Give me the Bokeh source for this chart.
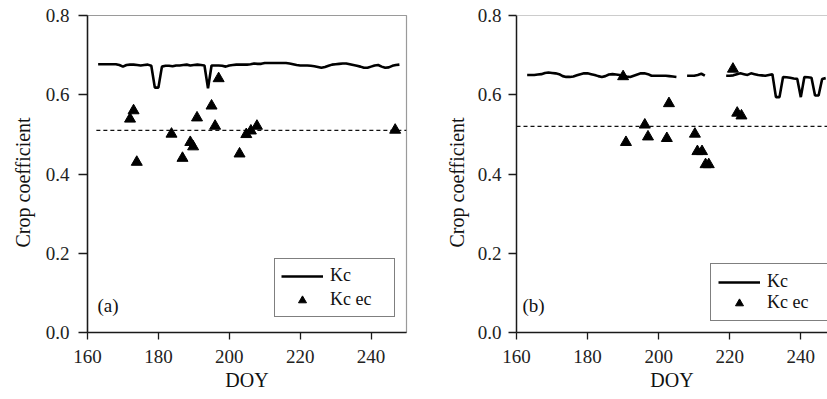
import math
from bokeh.plotting import figure
from bokeh.layouts import row
from bokeh.models import Range1d, FixedTicker, Legend, LegendItem, Label, Span, Title
from bokeh.embed import file_html
from bokeh.resources import INLINE

NAN = float("nan")

# ---------------- data : panel (a) ----------------
days_a = list(range(163, 249))
kc_a = [0.677, 0.677, 0.677, 0.677, 0.677, 0.677, 0.675, 0.671, 0.675, 0.676,   # 163-172
        0.676, 0.675, 0.674, 0.675, 0.676, 0.673, 0.618, 0.618, 0.671, 0.673,   # 173-182
        0.673, 0.672, 0.674, 0.674, 0.675, 0.676, 0.674, 0.675, 0.676, 0.675,   # 183-192
        0.674, 0.616, 0.674, 0.674, 0.674, 0.673, 0.671, 0.674, 0.675, 0.676,   # 193-202
        0.676, 0.676, 0.676, 0.677, 0.679, 0.678, 0.678, 0.680, 0.680, 0.680,   # 203-212
        0.680, 0.680, 0.680, 0.680, 0.679, 0.677, 0.675, 0.674, 0.674, 0.674,   # 213-222
        0.673, 0.672, 0.670, 0.668, 0.670, 0.673, 0.676, 0.677, 0.678, 0.679,   # 223-232
        0.679, 0.677, 0.675, 0.673, 0.671, 0.668, 0.668, 0.671, 0.674, 0.675,   # 233-242
        0.671, 0.668, 0.669, 0.673, 0.675, 0.676]                               # 243-248
ec_day_a = [172.0, 173.0, 173.9, 183.7, 186.8, 189.0, 189.8, 190.9, 195.0, 196.0,
            197.0, 202.9, 204.8, 206.1, 207.8, 246.8]
ec_kc_a = [0.539, 0.560, 0.430, 0.501, 0.440, 0.480, 0.469, 0.542, 0.572, 0.521,
           0.641, 0.451, 0.500, 0.509, 0.521, 0.511]
mean_x_a = [162.5, 250]
mean_kc_a = [0.51, 0.51]

# ---------------- data : panel (b) ----------------
days_b = list(range(163, 248))
kc_b = [0.650, 0.650, 0.650, 0.651, 0.652, 0.655, 0.656, 0.655, 0.654, 0.652,   # 163-172
        0.647, 0.645, 0.645, 0.646, 0.649, 0.652, 0.654, 0.654, 0.652, 0.650,   # 173-182
        0.647, 0.645, 0.647, 0.651, 0.652, 0.651, 0.650, 0.648, 0.646, 0.645,   # 183-192
        0.648, 0.651, 0.654, 0.654, 0.652, 0.648, 0.648, 0.648, 0.648, 0.648,   # 193-202
        0.647, 0.646, 0.645, NAN, NAN, 0.648, 0.648, 0.648, 0.650, 0.653,       # 203-212
        0.648, NAN, NAN, NAN, NAN, NAN, 0.648, 0.648, 0.649, 0.652,             # 213-222
        0.654, 0.652, 0.650, 0.654, 0.652, 0.650, 0.649, 0.648, 0.650, 0.652,   # 223-232
        0.594, 0.594, 0.645, 0.644, 0.643, 0.641, 0.640, 0.594, 0.645, 0.644,   # 233-242
        0.643, 0.598, 0.598, 0.640, 0.642]                                       # 243-247
ec_day_b = [190.0, 190.8, 196.1, 197.0, 202.3, 202.9, 210.2, 210.9, 212.2, 213.2,
            214.1, 220.9, 222.1, 223.3]
ec_kc_b = [0.646, 0.480, 0.524, 0.494, 0.490, 0.578, 0.501, 0.457, 0.457, 0.424,
           0.424, 0.665, 0.554, 0.547]
mean_x_b = [160, 250]
mean_kc_b = [0.52, 0.52]

x_ticks = [160, 180, 200, 220, 240]
y_ticks = [0.0, 0.2, 0.4, 0.6, 0.8]

FONT = "Liberation Serif"
AX = "#1a1a1a"


def panel(width, border_left, border_right, x_end, days, kc, ecx, ecy, mx, my,
          tag, leg_loc, leg_pad, leg_spacing, lab_standoff, tick_out_y,
          ytitle_standoff, show_outline):
    p = figure(width=width, height=399, output_backend="svg", toolbar_location=None,
               x_range=Range1d(160, x_end), y_range=Range1d(0, 0.8),
               min_border_left=border_left, min_border_right=border_right,
               min_border_top=15, min_border_bottom=67)
    p.xgrid.visible = False
    p.ygrid.visible = False
    p.background_fill_color = "white"
    p.border_fill_color = "white"
    if show_outline:
        p.outline_line_color = "#9a9a9a"
        p.outline_line_width = 1.2
    else:
        p.outline_line_color = None
        p.add_layout(Span(location=0.8, dimension="width", line_color="#9a9a9a",
                          line_width=1.2))

    for ax in (p.xaxis[0], p.yaxis[0]):
        ax.axis_line_color = AX
        ax.axis_line_width = 1.5
        ax.major_tick_line_color = AX
        ax.major_tick_line_width = 1.3
        ax.major_tick_in = 0
        ax.minor_tick_line_color = None
        ax.major_label_text_font = FONT
        ax.major_label_text_font_size = "19px"
        ax.major_label_text_color = "#222222"

    p.xaxis.ticker = FixedTicker(ticks=x_ticks)
    p.yaxis.ticker = FixedTicker(ticks=y_ticks)
    p.xaxis.major_label_overrides = {t: str(t) for t in x_ticks}
    p.yaxis.major_label_overrides = {t: f"{t:.1f}" for t in y_ticks}
    p.xaxis.major_tick_out = 7
    p.yaxis.major_tick_out = tick_out_y
    p.xaxis.major_label_standoff = 10
    p.yaxis.major_label_standoff = lab_standoff

    xa = p.xaxis[0]
    xa.axis_label = "DOY"
    xa.axis_label_text_font = FONT
    xa.axis_label_text_font_size = "20px"
    xa.axis_label_text_font_style = "normal"
    xa.axis_label_text_color = "#111111"
    xa.axis_label_standoff = 3

    ytitle = Title(text="Crop coefficient", align="left", offset=85,
                   standoff=ytitle_standoff, text_font=FONT,
                   text_font_size="20px", text_font_style="normal",
                   text_color="#111111")
    p.add_layout(ytitle, "left")

    p.line(mx, my, line_color="#111111", line_width=1.2, line_dash="4 3")
    r_line = p.line(days, kc, line_color="black", line_width=2.6)
    r_pts = p.scatter(ecx, ecy, marker="triangle", size=11, fill_color="black",
                      line_color="black")

    leg = Legend(items=[LegendItem(label="Kc", renderers=[r_line]),
                        LegendItem(label="Kc ec", renderers=[r_pts])],
                 location=leg_loc, orientation="vertical")
    leg.label_text_font = FONT
    leg.label_text_font_size = "18px"
    leg.label_text_color = "#111111"
    leg.glyph_width = 42
    leg.glyph_height = 20
    leg.label_height = 20
    leg.label_width = 58
    leg.label_standoff = 7
    leg.padding = leg_pad
    leg.spacing = leg_spacing
    leg.margin = 0
    leg.border_line_color = "black"
    leg.border_line_width = 1.2
    leg.background_fill_alpha = 1.0
    p.add_layout(leg)

    p.add_layout(Label(x=160, y=0.068, x_offset=10 if tag == "(a)" else 6,
                       text=tag, text_font=FONT, text_font_size="19px",
                       text_color="#111111", text_baseline="middle"))
    return p


pa = panel(414, 87, 8, 250, days_a, kc_a, ec_day_a, ec_kc_a, mean_x_a, mean_kc_a,
           "(a)", (187, 15), 6, 3, 9, 9, 18, True)
pb = panel(413, 102, 0, 160 + 311 / 3.554, days_b, kc_b, ec_day_b, ec_kc_b,
           mean_x_b, mean_kc_b, "(b)", (194, 11), 7, 0, 7, 8, 14, False)

layout = row(pa, pb, spacing=0)
open("out.html", "w").write(file_html(layout, INLINE))
